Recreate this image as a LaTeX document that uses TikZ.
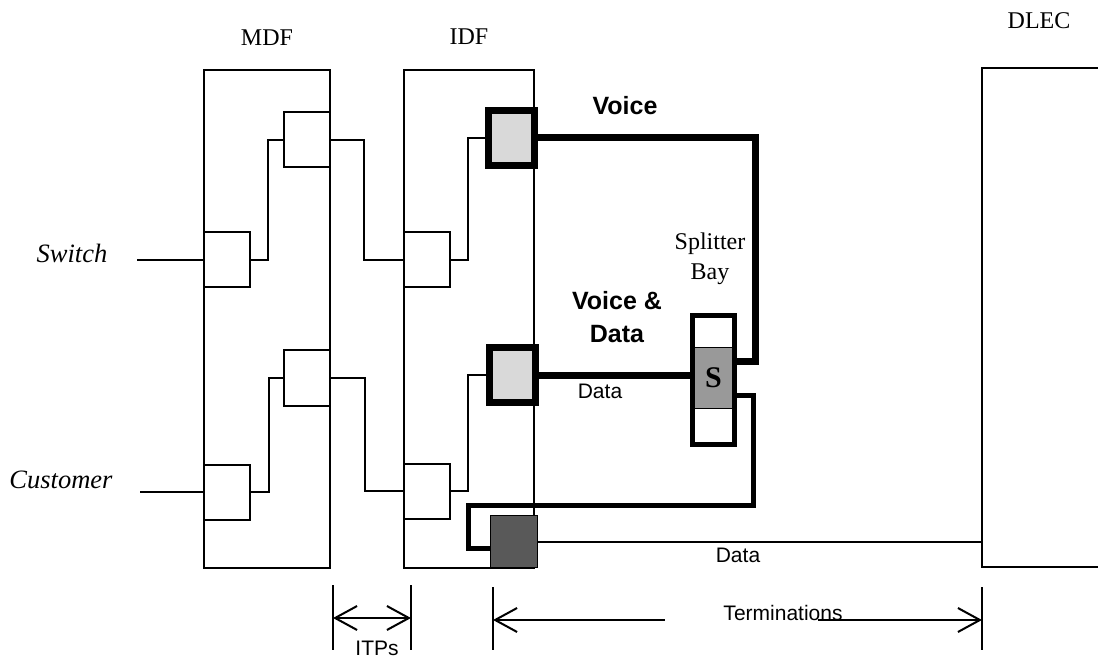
\documentclass[tikz,border=0pt]{standalone}
\usepackage{fontspec}
\setmainfont{Liberation Serif}
\setsansfont{Liberation Sans}
\usetikzlibrary{calc, positioning, arrows.meta}

\begin{document}
\begin{tikzpicture}[
        x=1pt, y=-1pt,
        frame/.style={rectangle, draw=black, line width=2pt, inner sep=0pt, outer sep=0pt},
        box/.style={rectangle, draw=black, fill=white, line width=2pt, minimum width=46pt, minimum height=55pt, inner sep=0pt, outer sep=0pt},
        tbox/.style={rectangle, draw=black, fill=black!15, line width=7pt, minimum width=46pt, minimum height=55pt, inner sep=0pt, outer sep=0pt},
        wire/.style={line width=2pt},
        vline/.style={line width=7pt},
        dline/.style={line width=5pt},
        lbl/.style={font=\fontsize{24}{30}\selectfont, inner sep=0pt, anchor=base},
        side/.style={font=\fontsize{26.5}{32}\selectfont\itshape, inner sep=0pt, anchor=base},
        tag/.style={font=\fontsize{25}{32}\sffamily\bfseries\selectfont, inner sep=0pt, anchor=base},
        note/.style={font=\fontsize{21}{26}\sffamily\selectfont, inner sep=0pt, anchor=base},
        tick/.style={line width=2.5pt},
        dim/.style={line width=2pt, >={Straight Barb[length=22pt, width=24pt]}}
    ]
    \useasboundingbox (0,0) rectangle (1098,660);

    % frames
    \node[frame, minimum width=126pt, minimum height=498pt, anchor=north west] (mdf) at (204,70) {};
    \node[frame, minimum width=130pt, minimum height=498pt, anchor=north west] (idf) at (404,70) {};
    \node[lbl, anchor=south, above=24pt of mdf] {MDF};
    \node[lbl, anchor=south, above=25pt of idf] {IDF};
    \coordinate (dlecnw) at (982,68);
    \coordinate (dlecsw) at (982,567);
    \draw[wire] (1098,68) -- (dlecnw) -- (dlecsw) -- (1098,567);
    \node[lbl] (dleclbl) at (1039,29) {DLEC};

    % cross-connect blocks
    \node[box, anchor=west] (mdfa) at (204,260) {};
    \node[box, anchor=east] (mdfb) at (330,140) {};
    \node[box, anchor=east] (mdfc) at (330,378) {};
    \node[box, anchor=west] (mdfd) at (204,492) {};
    \node[box, anchor=west] (idfa) at (404,260) {};
    \node[box, anchor=west] (idfb) at (404,491) {};
    \node[tbox] (voicebox) at (511,138) {};
    \node[tbox] (vdbox) at (512,375) {};
    \node[rectangle, draw=black, line width=1.5pt, fill=black!65, minimum width=47pt, minimum height=52pt, outer sep=0pt] (darkbox) at (514,541.5) {};

    % splitter bay
    \node[rectangle, draw=black, line width=1pt, fill=black!40, minimum width=40pt, minimum height=60pt, inner sep=0pt,
          font=\fontsize{30}{30}\bfseries\selectfont] (ssec) at (713.5,378) {S};
    \node[rectangle, draw=black, line width=5pt, minimum width=42pt, minimum height=129pt, outer sep=0pt] (split) at (713.5,380) {};
    \node[lbl] (splitter) at (710,250) {Splitter};
    \node[lbl] (bay) at ($(splitter.base)+(0,30)$) {Bay};

    % side texts
    \node[side] (switch) at (72,263) {Switch};
    \node[side] (customer) at (61,488) {Customer};
    \coordinate (swin) at (137,260);
    \coordinate (cuin) at (140,492);
    \node[tag] (voice) at (625,115) {Voice};
    \node[tag] (vd) at (617,310) {Voice \&};
    \node[tag] (vddata) at (617,343) {Data};
    \node[note] (data1) at (600,398) {Data};
    \node[note] (data2) at (738,562) {Data};

    % jumpers
    \draw[wire] (swin) -- (mdfa.west);
    \draw[wire] (cuin) -- (mdfd.west);
    \draw[wire] (mdfa.east) -- ++(18,0) |- (mdfb.west);
    \draw[wire] (mdfb.east) -- ++(34,0) |- (idfa.west);
    \draw[wire] (idfa.east) -- ++(18,0) |- (voicebox.west);
    \draw[wire] (mdfd.east) -- ++(19,0) |- (mdfc.west);
    \draw[wire] (mdfc.east) -- ++(35,0) |- (idfb.west);
    \draw[wire] (idfb.east) -- ++(18,0) |- (vdbox.west);

    % voice and data paths
    \coordinate (vin) at ($(split.east)+(0,-18)$);
    \coordinate (dout) at ($(split.east)+(0,15)$);
    \coordinate (dkin) at ($(darkbox.west)+(0,6.5)$);
    \draw[vline] (voicebox.east) -- ++(221,0) |- (vin);
    \draw[vline] (vdbox.east) -- (vdbox.east -| split.west);
    \draw[dline] (dout) -| ++(19,110) -| ++(-285,43) -- (dkin);
    \draw[wire] (darkbox.east) -- (darkbox.east -| dlecnw);

    % dimensions
    \coordinate (itpa) at (333,618);
    \coordinate (itpb) at (411,618);
    \coordinate (terma) at (493,620);
    \coordinate (termb) at (982,620);
    \draw[tick] (333,585) -- (333,650);
    \draw[tick] (411,585) -- (411,650);
    \draw[tick] (493,587) -- (493,650);
    \draw[tick] (982,587) -- (982,650);
    \draw[dim, <->] (itpa) -- (itpb);
    \draw[dim, <-] (terma) -- (665,620);
    \draw[dim, ->] (818,620) -- (termb);
    \node[note] (itps) at (377,655) {ITPs};
    \node[note] (term) at (783,620) {Terminations};

\end{tikzpicture}
\end{document}
